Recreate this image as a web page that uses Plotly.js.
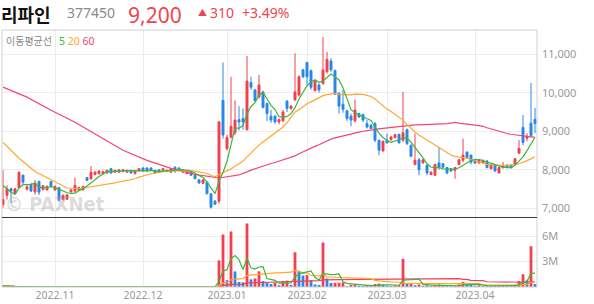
<!DOCTYPE html>
<html><head><meta charset="utf-8">
<script src="https://cdn.plot.ly/plotly-3.0.1.min.js"></script>
<style>html,body{margin:0;padding:0;background:#fff}#chart{width:594px;height:304px}</style>
</head><body><div id="chart"></div>
<script>
// ---- data ----
const startDate = '2022-10-13';
const holidays = ['2022-12-30','2023-01-23','2023-01-24','2023-03-01'];

const open = [
7100,7340,7510,7380,7545,7860,7500,7620,7430,7700,
7490,7480,7700,7480,7540,7230,7240,7430,7450,7470,
7480,7800,7770,7880,7900,7900,7920,8030,7940,7940,
7960,7940,7990,7900,7970,8050,8050,8050,7990,8000,
7990,7960,7940,8070,8050,7940,7900,7940,7860,7740,
7650,7680,7380,7190,7190,9800,8550,8850,8960,9300,
9330,9040,10260,10070,9890,10020,9720,9390,9390,9240,
9270,9780,9590,9810,9940,10590,10780,10570,10050,10200,
10240,10540,10820,10570,9980,9700,9530,9390,9270,9460,
9430,9200,9160,9200,8770,8490,8770,8780,8840,8920,
8770,9040,8640,8140,8260,8180,8120,7880,7860,8180,
8160,8060,8030,7990,8140,8250,8460,8380,8260,8180,
8180,8230,8030,8120,7920,8060,8120,8120,8140,8430,
9100,8820,9210,9310];
const high = [
7990,7600,7540,7530,7970,7880,7620,7660,7740,7720,
7610,7600,7720,7600,7560,7360,7380,7500,7800,7560,
7590,7820,8100,7970,7990,7980,8000,8050,8000,8020,
8020,8000,8000,7980,8040,8060,8060,8060,8000,8010,
8040,8000,8040,8090,8060,8010,7980,7960,7870,7760,
7760,7700,7390,7220,9270,10780,8910,10410,9800,9650,
9590,10950,10410,10100,10460,10050,9740,9550,9420,9330,
9550,9810,9680,11020,10450,10620,10800,10600,10330,10240,
11440,11060,10890,10600,10020,10070,9550,9460,9820,9480,
9460,9290,9180,9240,8780,8760,8940,8880,8940,8940,
10020,9070,8650,8940,8310,8280,8140,7960,8160,8590,
8180,8070,8050,8070,8290,8810,8480,8400,8290,8280,
8260,8250,8130,8140,8070,8200,8140,8130,8300,8770,
9420,8950,10250,9600];
const low = [
7020,7230,7140,7370,7520,7620,7470,7430,7360,7350,
7460,7470,7550,7460,7200,7200,7230,7420,7420,7450,
7470,7710,7740,7860,7880,7880,7900,7900,7930,7930,
7950,7930,7900,7890,7960,7960,7960,7980,7900,7920,
7980,7950,7930,7920,7980,7930,7890,7850,7760,7640,
7630,7370,7000,7090,7120,8810,8500,8810,8900,9020,
9040,9020,10070,9770,9850,9590,9270,9220,9200,9180,
9240,9500,9560,9790,9900,10380,10200,10080,10030,10000,
10200,10500,10540,9940,9460,9480,9270,9130,9220,9350,
9240,9070,9050,8720,8380,8470,8680,8760,8810,8680,
8720,8640,8330,8120,7860,8160,7860,7860,7850,8000,
8050,7880,7950,7770,8120,8200,8290,8140,8150,8150,
8160,8040,8010,7950,7900,8030,8040,8040,8130,8420,
8640,8740,8840,8950];
const close = [
7230,7510,7450,7510,7930,7680,7560,7450,7660,7420,
7590,7570,7570,7570,7210,7340,7350,7480,7600,7540,
7570,7730,7940,7940,7970,7950,7990,7920,7990,8000,
8000,7990,7920,7970,8030,7970,7970,7990,7920,7930,
8030,7990,8030,7990,7990,8000,7970,7860,7770,7660,
7740,7380,7030,7110,9240,8900,8840,9130,9290,9240,
9240,10300,10140,9790,10200,9620,9460,9290,9240,9300,
9500,9590,9650,10020,10410,10410,10410,10140,10310,10070,
10590,10860,10590,9960,9650,9570,9330,9290,9550,9370,
9290,9110,9070,8770,8510,8740,8700,8850,8910,8700,
8960,8680,8350,8250,8000,8260,7920,7940,8140,8060,
8070,7920,7970,8060,8260,8380,8320,8200,8180,8260,
8250,8060,8120,7970,8060,8120,8060,8060,8290,8560,
8710,8870,8890,9200];
const volume = [
150000,42000,31000,28000,55000,38000,22000,25000,36000,41000,
18000,15000,22000,19000,47000,26000,21000,17000,34000,16000,
14000,23000,39000,21000,18000,15000,17000,24000,13000,12000,
11000,14000,16000,12000,15000,13000,11000,12000,14000,12000,
10000,11000,13000,16000,12000,10000,11000,15000,19000,23000,
14000,32000,48000,26000,
3140000,6200000,800000,6550000,1840000,600000,550000,7500000,900000,1000000,
1850000,700000,500000,350000,500000,200000,700000,750000,250000,4100000,
1850000,1350000,1400000,800000,300000,250000,5250000,1000000,470000,500000,
500000,550000,100000,250000,300000,150000,120000,200000,100000,350000,
400000,300000,150000,120000,180000,200000,3330000,400000,450000,200000,
300000,150000,200000,100000,250000,300000,150000,100000,80000,120000,
300000,600000,300000,250000,150000,200000,100000,150000,120000,100000,
150000,200000,100000,80000,250000,700000,1500000,780000,4800000,350000];

const ma5LeadIdx = [0,1,2,3];
const ma5LeadVal = [7597,7510,7420,7370];
const ma20LeadIdx = [0,4,8,12,16];
const ma20LeadVal = [8714,8300,7960,7740,7530];
const ma60LeadIdx = [0,6,12,18,24,30,36,42,48,54];
const ma60LeadVal = [10144,9884,9546,9234,8870,8506,8246,8038,7882,7790];

const priceTicks = [7000,8000,9000,10000,11000];
const volTicks = [3000000,6000000];
const volTickText = ['3M','6M'];

const stockName = '리파인';
const stockCode = '377450';
const lastPrice = '9,200';
const change = '310';
const changePct = '+3.49%';

// ---- build ----
const RED = '#f2404e', BLUE = '#2a87e8';
const C5 = '#3cb63c', C20 = '#ffa72e', C60 = '#f04870';

function pad(n){return (n<10?'0':'')+n;}
const dates = [];
(function(){
  const d = new Date(startDate+'T00:00:00Z');
  while (dates.length < close.length) {
    const s = d.getUTCFullYear()+'-'+pad(d.getUTCMonth()+1)+'-'+pad(d.getUTCDate());
    const wd = d.getUTCDay();
    if (wd!==0 && wd!==6 && holidays.indexOf(s)<0) dates.push(s);
    d.setUTCDate(d.getUTCDate()+1);
  }
})();
const tickVals = [], tickText = [];
for (let i=1;i<dates.length;i++){
  if (dates[i].slice(0,7)!==dates[i-1].slice(0,7)) { tickVals.push(dates[i]); tickText.push(dates[i].slice(0,4)+'.'+dates[i].slice(5,7)); }
}
function sma(arr,n,leadIdx,leadVal){
  const xs=[],ys=[];
  leadIdx.forEach((k,j)=>{xs.push(dates[k]);ys.push(leadVal[j]);});
  for(let i=n-1;i<arr.length;i++){let s=0;for(let k=i-n+1;k<=i;k++)s+=arr[k];xs.push(dates[i]);ys.push(s/n);}
  return {xs,ys};
}
function smaPartial(arr,n){
  const ys=[];
  for(let i=0;i<arr.length;i++){let s=0,c=0;for(let k=Math.max(0,i-n+1);k<=i;k++){s+=arr[k];c++;}ys.push(s/c);}
  return ys;
}
const m5 = sma(close,5,ma5LeadIdx,ma5LeadVal);
const m20 = sma(close,20,ma20LeadIdx,ma20LeadVal);
const m60 = sma(close,60,ma60LeadIdx,ma60LeadVal);
const volColors = volume.map((v,i)=> (i===0 || v>=volume[i-1]) ? RED : BLUE);

const traces = [
  {type:'bar', x:dates, y:volume, xaxis:'x', yaxis:'y2', marker:{color:volColors, line:{width:0}}, hoverinfo:'skip'},
  {type:'scatter', mode:'lines', x:dates, y:smaPartial(volume,60), xaxis:'x', yaxis:'y2', line:{color:'#f0405a',width:1.2}, hoverinfo:'skip'},
  {type:'scatter', mode:'lines', x:dates, y:smaPartial(volume,20), xaxis:'x', yaxis:'y2', line:{color:C20,width:1.2}, hoverinfo:'skip'},
  {type:'scatter', mode:'lines', x:dates, y:smaPartial(volume,5), xaxis:'x', yaxis:'y2', line:{color:C5,width:1.2}, hoverinfo:'skip'},
  {type:'scatter', mode:'lines', x:m60.xs, y:m60.ys, xaxis:'x', yaxis:'y', line:{color:C60,width:1.2}, hoverinfo:'skip'},
  {type:'scatter', mode:'lines', x:m20.xs, y:m20.ys, xaxis:'x', yaxis:'y', line:{color:C20,width:1.2}, hoverinfo:'skip'},
  {type:'candlestick', x:dates, open:open, high:high, low:low, close:close, xaxis:'x', yaxis:'y',
   increasing:{line:{color:RED,width:1}, fillcolor:RED},
   decreasing:{line:{color:BLUE,width:1}, fillcolor:BLUE}, whiskerwidth:0, hoverinfo:'skip'},
  {type:'scatter', mode:'lines', x:m5.xs, y:m5.ys, xaxis:'x', yaxis:'y', line:{color:C5,width:1.2}, hoverinfo:'skip'}
];

const split = 69.5/257;
const fnt = '"Noto Sans", "Noto Sans CJK KR", sans-serif';
const kr = '"Noto Sans CJK KR", "Noto Sans", sans-serif';
function px(x){return (x-2)/535;}
function py(y){return (287-y)/257;}
const ann = (x,y,text,size,color,extra)=>Object.assign({xref:'paper',yref:'paper',x:px(x),y:py(y),xanchor:'left',yanchor:'middle',showarrow:false,text:text,font:{family:fnt,size:size,color:color}},extra||{});
const topY = py(0);

const layout = {
  width:594, height:304,
  margin:{l:2,r:57,t:30,b:17},
  paper_bgcolor:'#fff', plot_bgcolor:'#fff',
  showlegend:false, hovermode:false, dragmode:false,
  boxgap:0.3, bargap:0.3,
  xaxis:{type:'category', anchor:'y2', range:[-0.25,133.5], tickvals:tickVals, ticktext:tickText,
    showgrid:true, gridcolor:'#ececec', gridwidth:1, ticks:'', zeroline:false, showline:false,
    tickfont:{family:fnt,size:10.5,color:'#999'}, rangeslider:{visible:false}, fixedrange:true},
  yaxis:{domain:[split,1], range:[6766,11623], side:'right', anchor:'x', tickvals:priceTicks, tickformat:',d',
    showgrid:true, gridcolor:'#ececec', ticks:'', zeroline:false, showline:false,
    tickfont:{family:fnt,size:11,color:'#999'}, ticklabelstandoff:4, fixedrange:true},
  yaxis2:{domain:[0,split], range:[0,8200000], side:'right', anchor:'x', tickvals:volTicks, ticktext:volTickText,
    showgrid:true, gridcolor:'#ececec', ticks:'', zeroline:false, showline:false,
    tickfont:{family:fnt,size:11,color:'#999'}, ticklabelstandoff:4, fixedrange:true},
  shapes:[
    {type:'rect',xref:'paper',yref:'paper',x0:0,x1:1,y0:0,y1:1,line:{color:'#cfcfcf',width:1},layer:'above'},
    {type:'line',xref:'paper',yref:'paper',x0:0,x1:1,y0:split,y1:split,line:{color:'#3a3a3a',width:1},layer:'above'}
  ],
  annotations:[
    Object.assign(ann(0,0,stockName,18,'#111'),{y:topY,yanchor:'top',borderpad:0,font:{family:kr,size:18,color:'#111',weight:700}}),
    ann(65,12,stockCode,14,'#8a8a8a'),
    Object.assign(ann(127,0,lastPrice,21,'#f0444e'),{y:topY,yanchor:'top',borderpad:0}),
    ann(196,12,'▲',9,'#f0444e'),
    ann(208,12,change,14,'#f0444e'),
    ann(240,12,changePct,14,'#f0444e'),
    Object.assign(ann(4,41,'이동평균선',10,'#888'),{font:{family:kr,size:10,color:'#888'}}),
    ann(57,41,'<span style="color:'+C5+'">5</span> <span style="color:'+C20+'">20</span> <span style="color:'+C60+'">60</span>',10.5,'#888'),
    {xref:'paper',yref:'paper',x:px(3),y:py(204),xanchor:'left',yanchor:'middle',showarrow:false,
     text:'© PAXNet',font:{family:'"Liberation Sans Narrow", "DejaVu Sans Condensed", sans-serif',size:20,color:'rgba(175,175,175,0.45)',weight:700}}
  ]
};
Plotly.newPlot('chart', traces, layout, {staticPlot:true, displayModeBar:false});
</script></body></html>
